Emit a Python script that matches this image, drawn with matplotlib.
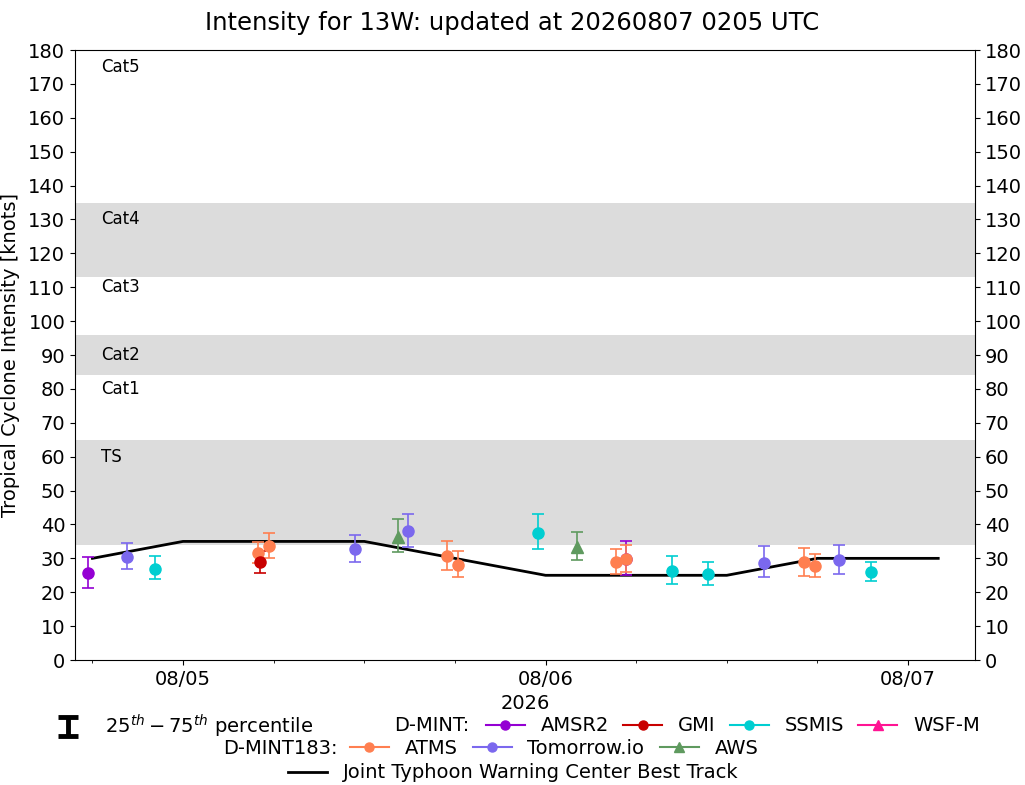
import pandas as pd
import matplotlib
matplotlib.use("Agg")
import matplotlib.pyplot as plt
import matplotlib.dates as mdates
from matplotlib.lines import Line2D

# best track (JTWC)
bt_times = ['2026-08-04 18:00', '2026-08-05 00:00', '2026-08-05 06:00', '2026-08-05 12:00',
            '2026-08-05 18:00', '2026-08-06 00:00', '2026-08-06 06:00', '2026-08-06 12:00',
            '2026-08-06 18:00', '2026-08-07 00:00', '2026-08-07 02:00']
bt_vmax = [30, 35, 35, 35, 30, 25, 25, 25, 30, 30, 30]

# D-MINT
amsr2_times = ['2026-08-04 17:44', '2026-08-06 05:18']
amsr2_val = [25.6, 29.7]
amsr2_lo = [21.2, 25.0]
amsr2_hi = [30.3, 35.1]

gmi_times = ['2026-08-05 05:06']
gmi_val = [28.8]
gmi_lo = [25.6]
gmi_hi = [32.3]

ssmis_times = ['2026-08-04 22:09', '2026-08-05 23:31', '2026-08-06 08:24',
               '2026-08-06 10:44', '2026-08-06 21:33']
ssmis_val = [26.8, 37.4, 26.3, 25.4, 26.0]
ssmis_lo = [23.8, 32.7, 22.4, 22.0, 23.3]
ssmis_hi = [30.7, 43.0, 30.7, 28.8, 28.8]

# D-MINT183
atms_times = ['2026-08-05 04:57', '2026-08-05 05:43', '2026-08-05 17:27', '2026-08-05 18:14',
              '2026-08-06 04:39', '2026-08-06 05:20', '2026-08-06 17:07', '2026-08-06 17:52']
atms_val = [31.5, 33.6, 30.7, 28.0, 28.8, 29.7, 28.8, 27.7]
atms_lo = [28.5, 30.0, 26.6, 24.4, 25.4, 26.0, 24.9, 24.4]
atms_hi = [34.7, 37.4, 35.2, 32.3, 32.7, 33.8, 33.0, 31.3]

tio_times = ['2026-08-04 20:16', '2026-08-05 11:24', '2026-08-05 14:53',
             '2026-08-06 14:29', '2026-08-06 19:27']
tio_val = [30.3, 32.7, 38.1, 28.5, 29.5]
tio_lo = [26.8, 28.8, 33.3, 24.4, 25.4]
tio_hi = [34.4, 36.8, 43.0, 33.6, 33.9]

aws_times = ['2026-08-05 14:13', '2026-08-06 02:06']
aws_val = [36.4, 33.4]
aws_lo = [32.0, 29.5]
aws_hi = [41.5, 37.9]

# category bands and labels
bands = [(34, 65), (84, 96), (113, 135)]
cat_names = ['TS', 'Cat1', 'Cat2', 'Cat3', 'Cat4', 'Cat5']
cat_ypos = [60, 80, 90, 110, 130, 175]

fig = plt.figure(figsize=(10.25, 7.85), dpi=100)
ax = fig.add_axes([0.0732, 0.1592, 0.878, 0.7771])

for lo, hi in bands:
    ax.axhspan(lo, hi, color='gainsboro', zorder=0, lw=0)
for name, yy in zip(cat_names, cat_ypos):
    ax.text(0.029, yy, name, transform=ax.get_yaxis_transform(), fontsize=12, va='center')

ax.plot(pd.to_datetime(bt_times), bt_vmax, color='k', lw=2, zorder=2)


def plot_sat(times, val, lo, hi, color, marker='o'):
    t = pd.to_datetime(times)
    err = [[v - l for v, l in zip(val, lo)], [h - v for v, h in zip(val, hi)]]
    ax.errorbar(t, val, yerr=err, fmt=marker, color=color, ecolor=color,
                markersize=8, capsize=4, elinewidth=1.2, capthick=1.2, zorder=3)


plot_sat(amsr2_times, amsr2_val, amsr2_lo, amsr2_hi, 'darkviolet')
plot_sat(atms_times, atms_val, atms_lo, atms_hi, 'coral')
plot_sat(gmi_times, gmi_val, gmi_lo, gmi_hi, '#c80000')
plot_sat(ssmis_times, ssmis_val, ssmis_lo, ssmis_hi, 'darkturquoise')
plot_sat(tio_times, tio_val, tio_lo, tio_hi, 'mediumslateblue')
plot_sat(aws_times, aws_val, aws_lo, aws_hi, '#5f9a5f', marker='^')

ax.set_ylim(0, 180)
ax.set_yticks(range(0, 181, 10))
ax.set_xlim(pd.Timestamp('2026-08-04 16:51'), pd.Timestamp('2026-08-07 04:26'))
ax.xaxis.set_major_locator(mdates.DayLocator())
ax.xaxis.set_major_formatter(mdates.DateFormatter('%m/%d'))
ax.xaxis.set_minor_locator(mdates.HourLocator(byhour=[0, 6, 12, 18]))
ax.tick_params(axis='both', labelsize=14)
ax.tick_params(axis='y', right=True, labelright=True)
ax.set_xlabel('2026', fontsize=14, labelpad=4)
ax.set_ylabel('Tropical Cyclone Intensity [knots]', fontsize=14, labelpad=6)
fig.text(0.5, 1 - 23 / 785, 'Intensity for 13W: updated at 20260807 0205 UTC',
         fontsize=17.5, ha='center', va='center')

# legend rows
fs = 14
eb = ax.errorbar([pd.Timestamp('2026-08-01')], [-10], yerr=[[1]], fmt='none', ecolor='k',
                 elinewidth=3.5, capsize=7.5, capthick=3.5)
fig.legend([eb], [r'$25^{th} - 75^{th}$ percentile'], loc='center left',
           bbox_to_anchor=(58 / 1025, 0.0752), frameon=False, fontsize=fs,
           handlelength=1.0, handletextpad=1.4, borderpad=0, borderaxespad=0)


def h(color, marker='o'):
    return Line2D([], [], color=color, marker=marker, markersize=6.5, lw=1.5)


fig.text(469 / 1025, 0.0752, 'D-MINT:', ha='right', va='center', fontsize=fs)
fig.legend([h('darkviolet'), h('#c80000'), h('darkturquoise'), h('deeppink', '^')],
           ['AMSR2', 'GMI', 'SSMIS', 'WSF-M'], ncol=4, loc='center left',
           bbox_to_anchor=(486 / 1025, 0.0752), frameon=False, fontsize=fs,
           borderpad=0, borderaxespad=0, columnspacing=0.75, handletextpad=0.8)

fig.text(338 / 1025, 0.0471, 'D-MINT183:', ha='right', va='center', fontsize=fs)
fig.legend([h('coral'), h('mediumslateblue'), h('#5f9a5f', '^')],
           ['ATMS', 'Tomorrow.io', 'AWS'], ncol=3, loc='center left',
           bbox_to_anchor=(350 / 1025, 0.0471), frameon=False, fontsize=fs,
           borderpad=0, borderaxespad=0, columnspacing=0.8, handletextpad=0.8)

fig.legend([Line2D([], [], color='k', lw=2)], ['Joint Typhoon Warning Center Best Track'],
           loc='center left', bbox_to_anchor=(288 / 1025, 0.0153), frameon=False,
           fontsize=fs, borderpad=0, borderaxespad=0, handletextpad=0.8)

fig.savefig('out.png', dpi=100)
